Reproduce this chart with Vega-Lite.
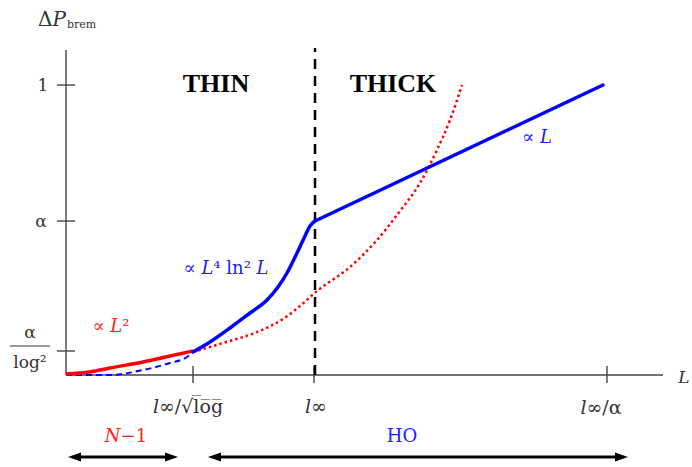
{
  "$schema": "https://vega.github.io/schema/vega-lite/v6.json",
  "width": 692,
  "height": 467,
  "autosize": {"type": "fit", "contains": "padding"},
  "padding": 0,
  "background": "white",
  "config": {"view": {"stroke": null}},
  "encoding": {
    "x": {"field": "x", "type": "quantitative", "scale": {"domain": [-66, 626], "nice": false, "zero": false}, "axis": null},
    "y": {"field": "y", "type": "quantitative", "scale": {"domain": [-92, 375], "nice": false, "zero": false}, "axis": null}
  },
  "layer": [
    {
      "data": {"values": [
        {"x": 0, "y": 0, "x2": 0, "y2": 325},
        {"x": 0, "y": 0, "x2": 597, "y2": 0},
        {"x": -9, "y": 24, "x2": 9, "y2": 24},
        {"x": -9, "y": 154, "x2": 9, "y2": 154},
        {"x": -9, "y": 290, "x2": 9, "y2": 290},
        {"x": 127, "y": -8, "x2": 127, "y2": 9},
        {"x": 248, "y": -8, "x2": 248, "y2": 9},
        {"x": 541, "y": -8, "x2": 541, "y2": 9}
      ]},
      "mark": {"type": "rule", "color": "#444444", "strokeWidth": 1.4},
      "encoding": {"x2": {"field": "x2"}, "y2": {"field": "y2"}}
    },
    {
      "data": {"values": [{"x": -56, "y": 29, "x2": -16, "y2": 29}]},
      "mark": {"type": "rule", "color": "#333333", "strokeWidth": 1},
      "encoding": {"x2": {"field": "x2"}, "y2": {"field": "y2"}}
    },
    {
      "data": {"values": [{"x": 249, "y": 0, "y2": 327}]},
      "mark": {"type": "rule", "color": "#000000", "strokeWidth": 2.5, "strokeDash": [10, 7]},
      "encoding": {"y2": {"field": "y2"}}
    },
    {
      "data": {"values": [
        {"x": 0, "y": 0}, {"x": 44, "y": 0}, {"x": 77, "y": 5}, {"x": 104, "y": 12}, {"x": 121, "y": 18}, {"x": 127, "y": 23}
      ]},
      "mark": {"type": "line", "color": "#0000ff", "strokeWidth": 2, "strokeDash": [6, 4], "interpolate": "monotone"}
    },
    {
      "data": {"values": [
        {"x": 127, "y": 23}, {"x": 157, "y": 32}, {"x": 191, "y": 43}, {"x": 217, "y": 56}, {"x": 234, "y": 69},
        {"x": 251, "y": 84}, {"x": 284, "y": 108}, {"x": 311, "y": 135}, {"x": 334, "y": 164}, {"x": 354, "y": 192},
        {"x": 371, "y": 225}, {"x": 384, "y": 255}, {"x": 396, "y": 290}
      ]},
      "mark": {"type": "line", "color": "#ff0000", "strokeWidth": 2.5, "strokeDash": [2.5, 3], "interpolate": "monotone"}
    },
    {
      "data": {"values": [
        {"x": 0, "y": 1}, {"x": 24, "y": 3}, {"x": 44, "y": 7}, {"x": 77, "y": 13}, {"x": 104, "y": 19}, {"x": 127, "y": 24}
      ]},
      "mark": {"type": "line", "color": "#ff0000", "strokeWidth": 3.5, "interpolate": "monotone"}
    },
    {
      "data": {"values": [
        {"x": 127, "y": 23}, {"x": 144, "y": 33}, {"x": 164, "y": 47}, {"x": 184, "y": 62}, {"x": 201, "y": 75},
        {"x": 212, "y": 88}, {"x": 221, "y": 102}, {"x": 231, "y": 122}, {"x": 239, "y": 139}, {"x": 244, "y": 149},
        {"x": 249, "y": 154}
      ]},
      "mark": {"type": "line", "color": "#0000ff", "strokeWidth": 3.5, "interpolate": "monotone", "strokeCap": "round"}
    },
    {
      "data": {"values": [{"x": 249, "y": 154}, {"x": 537, "y": 290}]},
      "mark": {"type": "line", "color": "#0000ff", "strokeWidth": 3.5, "strokeCap": "round"}
    },
    {
      "data": {"values": [
        {"x": 8, "y": -82, "x2": 106, "y2": -82},
        {"x": 148, "y": -82, "x2": 556, "y2": -82}
      ]},
      "mark": {"type": "rule", "color": "#000000", "strokeWidth": 3},
      "encoding": {"x2": {"field": "x2"}, "y2": {"field": "y2"}}
    },
    {
      "data": {"values": [{"x": 8.5, "y": -82}, {"x": 148.5, "y": -82}]},
      "mark": {"type": "point", "shape": "M-1,0 L1,-0.7 L1,0.7 Z", "size": 169, "filled": true, "color": "#000000", "opacity": 1}
    },
    {
      "data": {"values": [{"x": 105.5, "y": -82}, {"x": 555.5, "y": -82}]},
      "mark": {"type": "point", "shape": "M1,0 L-1,-0.7 L-1,0.7 Z", "size": 169, "filled": true, "color": "#000000", "opacity": 1}
    },
    {
      "data": {"values": [
        {"x": -23, "y": 289, "label": "1"},
        {"x": -25, "y": 153, "label": "α"},
        {"x": -36, "y": 42, "label": "α"},
        {"x": -36, "y": 12, "label": "log²"},
        {"x": 618, "y": -3, "label": "𝐿"}
      ]},
      "mark": {"type": "text", "font": "DejaVu Serif", "fontSize": 17, "color": "#333333", "align": "center", "baseline": "middle"},
      "encoding": {"text": {"field": "label"}}
    },
    {
      "data": {"values": [
        {"x": 122, "y": -32, "label": "𝑙∞/√l̅o̅g̅"},
        {"x": 250, "y": -32, "label": "𝑙∞"},
        {"x": 535, "y": -33, "label": "𝑙∞/α"}
      ]},
      "mark": {"type": "text", "font": "DejaVu Serif", "fontSize": 19, "color": "#333333", "align": "center", "baseline": "middle"},
      "encoding": {"text": {"field": "label"}}
    },
    {
      "data": {"values": [{"x": -14, "y": 355, "label": "Δ𝑃"}]},
      "mark": {"type": "text", "font": "DejaVu Serif", "fontSize": 20, "color": "#333333", "align": "center", "baseline": "middle"},
      "encoding": {"text": {"field": "label"}}
    },
    {
      "data": {"values": [{"x": 1, "y": 350, "label": "brem"}]},
      "mark": {"type": "text", "font": "DejaVu Serif", "fontSize": 11, "color": "#333333", "align": "left", "baseline": "middle"},
      "encoding": {"text": {"field": "label"}}
    },
    {
      "data": {"values": [
        {"x": 150, "y": 291, "label": "THIN"},
        {"x": 327, "y": 291, "label": "THICK"}
      ]},
      "mark": {"type": "text", "font": "Liberation Serif", "fontSize": 26, "fontWeight": "bold", "color": "#000000", "align": "center", "baseline": "middle"},
      "encoding": {"text": {"field": "label"}}
    },
    {
      "data": {"values": [
        {"x": 471, "y": 237, "label": "∝ 𝐿"},
        {"x": 160, "y": 106, "label": "∝ 𝐿⁴ ln² 𝐿"},
        {"x": 336, "y": -62, "label": "HO"}
      ]},
      "mark": {"type": "text", "font": "DejaVu Serif", "fontSize": 18, "color": "#2020ff", "align": "center", "baseline": "middle"},
      "encoding": {"text": {"field": "label"}}
    },
    {
      "data": {"values": [
        {"x": 45, "y": 48, "label": "∝ 𝐿²"},
        {"x": 60, "y": -62, "label": "𝑁−1"}
      ]},
      "mark": {"type": "text", "font": "DejaVu Serif", "fontSize": 18, "color": "#ff2020", "align": "center", "baseline": "middle"},
      "encoding": {"text": {"field": "label"}}
    }
  ]
}
